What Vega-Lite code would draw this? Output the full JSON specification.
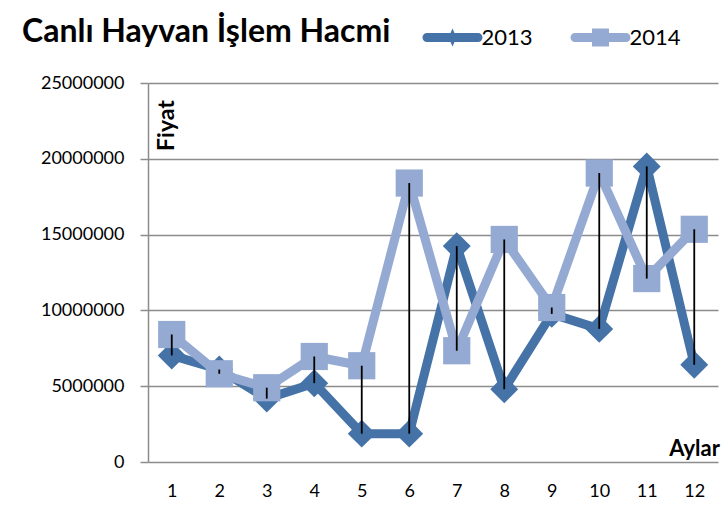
{
  "$schema": "https://vega.github.io/schema/vega-lite/v6.json",
  "width": 570,
  "height": 379,
  "autosize": "none",
  "padding": {"left": 148, "top": 83, "right": 10, "bottom": 69},
  "title": {
    "text": "Canlı Hayvan İşlem Hacmi",
    "anchor": "start",
    "frame": "group",
    "font": "Lato",
    "fontSize": 32,
    "fontWeight": "bold",
    "color": "black",
    "dx": -126,
    "offset": 0,
    "baseline": "alphabetic",
    "dy": 47.5
  },
  "config": {"view": {"stroke": null}, "font": "Lato"},
  "data": {
    "values": [
      {"month": 1, "year": "2013", "value": 7030000},
      {"month": 2, "year": "2013", "value": 6100000},
      {"month": 3, "year": "2013", "value": 4180000},
      {"month": 4, "year": "2013", "value": 5200000},
      {"month": 5, "year": "2013", "value": 1870000},
      {"month": 6, "year": "2013", "value": 1870000},
      {"month": 7, "year": "2013", "value": 14240000},
      {"month": 8, "year": "2013", "value": 4800000},
      {"month": 9, "year": "2013", "value": 9770000},
      {"month": 10, "year": "2013", "value": 8780000},
      {"month": 11, "year": "2013", "value": 19500000},
      {"month": 12, "year": "2013", "value": 6410000},
      {"month": 1, "year": "2014", "value": 8410000},
      {"month": 2, "year": "2014", "value": 5820000},
      {"month": 3, "year": "2014", "value": 4900000},
      {"month": 4, "year": "2014", "value": 6960000},
      {"month": 5, "year": "2014", "value": 6350000},
      {"month": 6, "year": "2014", "value": 18400000},
      {"month": 7, "year": "2014", "value": 7340000},
      {"month": 8, "year": "2014", "value": 14680000},
      {"month": 9, "year": "2014", "value": 10190000},
      {"month": 10, "year": "2014", "value": 19060000},
      {"month": 11, "year": "2014", "value": 12100000},
      {"month": 12, "year": "2014", "value": 15350000}
    ]
  },
  "encoding": {
    "x": {
      "field": "month",
      "type": "ordinal",
      "scale": {"type": "point", "padding": 0.5},
      "axis": {
        "title": "Aylar",
        "titleFont": "Lato",
        "titleFontSize": 22,
        "titleFontWeight": "bold",
        "titleColor": "black",
        "titleX": 546,
        "titleY": -7,
        "titleAlign": "center",
        "titleBaseline": "alphabetic",
        "labelAngle": 0,
        "labelFontSize": 18,
        "labelColor": "black",
        "labelPadding": 20,
        "domain": false,
        "ticks": false,
        "grid": false
      }
    }
  },
  "layer": [
    {
      "mark": {"type": "line", "strokeWidth": 9, "strokeJoin": "round"},
      "encoding": {
        "y": {
          "field": "value",
          "type": "quantitative",
          "scale": {"domain": [0, 25000000], "nice": false},
          "axis": {
            "title": "Fiyat",
            "titleFont": "Lato",
            "titleFontSize": 23,
            "titleFontWeight": "bold",
            "titleColor": "black",
            "titleAngle": -90,
            "titleX": 18,
            "titleY": 42,
            "titleAlign": "center",
            "titleBaseline": "middle",
            "values": [0, 5000000, 10000000, 15000000, 20000000, 25000000],
            "format": "d",
            "labelFontSize": 18,
            "labelColor": "black",
            "labelPadding": 16,
            "tickSize": 8,
            "tickColor": "#8c8c8c",
            "tickWidth": 1.5,
            "domainColor": "#8c8c8c",
            "domainWidth": 1.5,
            "gridColor": "#8c8c8c",
            "gridWidth": 1.5
          }
        },
        "color": {
          "field": "year",
          "type": "nominal",
          "scale": {"domain": ["2013", "2014"], "range": ["#4673A7", "#95AAD2"]},
          "legend": {
            "orient": "none",
            "legendX": 293.5,
            "legendY": -56.5,
            "direction": "horizontal",
            "title": null,
            "symbolSize": 400,
            "labelFont": "Lato",
            "labelFontSize": 22,
            "labelColor": "black",
            "labelOffset": 18,
            "columnPadding": 37,
            "padding": 0,
            "encode": {
              "symbols": {
                "update": {
                  "fill": {"signal": "datum.value === '2013' ? '#4673A7' : '#95AAD2'"},
                  "strokeWidth": {"value": 0},
                  "opacity": {"value": 1}
                }
              }
            }
          }
        }
      }
    },
    {
      "mark": {"type": "point", "filled": true, "opacity": 0, "size": 400},
      "encoding": {
        "y": {"field": "value", "type": "quantitative"},
        "color": {"field": "year", "type": "nominal"},
        "shape": {
          "field": "year",
          "type": "nominal",
          "scale": {
            "domain": ["2013", "2014"],
            "range": [
              "M-2.55,-0.45H2.55A0.45,0.45 0 0 1 2.55,0.45H-2.55A0.45,0.45 0 0 1 -2.55,-0.45ZM0,-0.9L0.4,0L0,0.9L-0.4,0Z",
              "M-2.55,-0.45H2.55A0.45,0.45 0 0 1 2.55,0.45H-2.55A0.45,0.45 0 0 1 -2.55,-0.45ZM-0.85,-0.9H0.85V0.9H-0.85Z"
            ]
          }
        }
      }
    },
    {
      "transform": [{"filter": "datum.year === '2013'"}],
      "mark": {"type": "point", "filled": true, "opacity": 1, "size": 780, "shape": "diamond"},
      "encoding": {
        "y": {"field": "value", "type": "quantitative"},
        "color": {"field": "year", "type": "nominal"}
      }
    },
    {
      "transform": [{"filter": "datum.year === '2014'"}],
      "mark": {"type": "point", "filled": true, "opacity": 1, "size": 740, "shape": "square"},
      "encoding": {
        "y": {"field": "value", "type": "quantitative"},
        "color": {"field": "year", "type": "nominal"}
      }
    },
    {
      "transform": [{"pivot": "year", "value": "value", "groupby": ["month"]}],
      "mark": {"type": "rule", "color": "black", "strokeWidth": 1.8},
      "encoding": {
        "y": {"field": "2013", "type": "quantitative"},
        "y2": {"field": "2014"}
      }
    }
  ]
}
